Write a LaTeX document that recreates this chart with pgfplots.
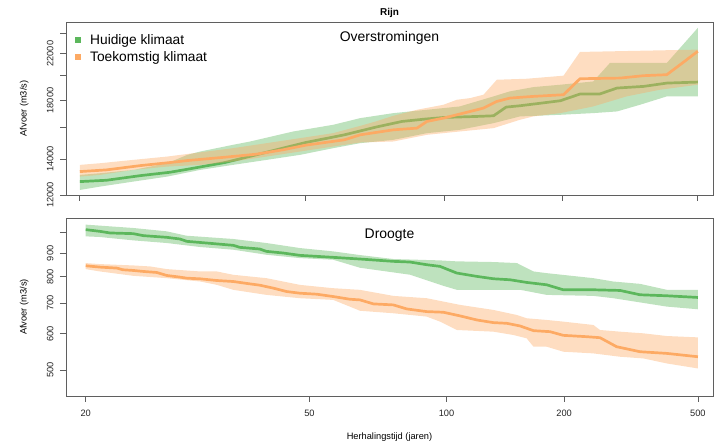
\documentclass[border=0pt]{standalone}
\usepackage{fontspec}
\setmainfont{Liberation Sans}
\usepackage{pgfplots}
\pgfplotsset{compat=1.18}
\definecolor{hgreen}{RGB}{92,183,92}
\definecolor{horange}{RGB}{253,170,100}
\definecolor{axgray}{RGB}{95,95,95}
\tikzset{mline/.style={line width=2.7bp, line join=round}}
\begin{document}
\begin{tikzpicture}
\useasboundingbox (0,0) rectangle (717bp,443bp);
% ---------------- top: Overstromingen
\begin{axis}[at={(66bp,248bp)}, anchor=south west,
  scale only axis, width=647bp, height=173bp,
  x coord trafo/.code={\pgfmathparse{ln(ln(#1))}},
  xmin=19.05, xmax=559.7,
  xtick={20,50,100,200,500}, xticklabels={},
  ymode=log, ymin=12000, ymax=25200,
  ytick={12000,14000,16000,18000,20000,22000,24000},
  yticklabels={12000,14000,,18000,,22000,},
  tick pos=left, tick align=outside, major tick length=6bp,
  axis line style={axgray, line width=0.8bp},
  every tick/.style={axgray, line width=0.8bp},
  /pgf/number format/assume math mode=true,
  ticklabel style={font=\fontsize{9.3}{11}\selectfont, text=black!85},
  yticklabel style={rotate=90, anchor=south}, yticklabel shift=3bp,
  ylabel={Afvoer (m3/s)},
  ylabel style={font=\fontsize{9.3}{11}\selectfont, at={(axis description cs:-0.0645,0.5)}, anchor=center},
  title={Rijn},
  title style={font=\bfseries\fontsize{10}{12}\selectfont, at={(axis description cs:0.5,1.016)}, anchor=center},
  legend style={at={(axis description cs:0,1)}, anchor=north west, xshift=6bp, yshift=-8.5bp,
    draw=none, fill=none, font=\fontsize{13.8}{16}\selectfont, row sep=1bp},
  legend cell align=left]
\addlegendimage{legend image code/.code={\fill[hgreen, draw=none] (0bp,-3bp) rectangle (6bp,3bp); \path[draw=none, fill=none] (0bp,-0.1bp) rectangle (13bp,0.1bp);}}
\addlegendentry{Huidige klimaat}
\addlegendimage{legend image code/.code={\fill[horange, draw=none] (0bp,-3bp) rectangle (6bp,3bp); \path[draw=none, fill=none] (0bp,-0.1bp) rectangle (13bp,0.1bp);}}
\addlegendentry{Toekomstig klimaat}
% green band (upper forward, lower backward)
\addplot[draw=none, fill=hgreen, fill opacity=0.4, forget plot] coordinates {
(20,13078) (21.5,13172) (24.3,13362) (27.7,13750) (30,14252) (31.6,14458) (36.2,14878)
(39,15094) (47.2,15756) (56.8,16213) (64.8,16685) (76.6,17048) (91.2,17293) (109,17544)
(132,18315) (145,18712) (167,19063) (197,19255) (243,19531) (271,21136) (400,21136) (500,24567)
(500,18315) (400,18315) (332,17669) (284,17171) (243,17048) (197,16925) (154,16806) (132,16330)
(109,15869) (91.2,15643) (76.6,15203) (64.8,14986) (56.8,14666) (48.7,14252) (41.9,13949)
(36.2,13652) (31.6,13362) (27.7,12984) (24.3,12708) (21.5,12438) (20,12261)};
\addplot[mline, hgreen, forget plot] coordinates {
(20,12708) (22,12781) (25,13040) (28,13228) (30,13399) (35,13790) (40,14252) (45,14666)
(50,15029) (60,15532) (70,16052) (80,16448) (90,16614) (100,16734) (120,16806) (132,16854)
(142,17494) (154,17594) (197,17976) (223,18499) (253,18499) (284,18983) (340,19118)
(400,19393) (500,19477)};
% orange band
\addplot[draw=none, fill=horange, fill opacity=0.4, forget plot] coordinates {
(20,13652) (21.5,13750) (24.3,13949) (27.7,14150) (36.2,14666) (41.9,14986) (48.7,15311)
(56.8,15643) (64.8,16139) (70,16448) (76.6,16854) (86.5,17293) (99.7,17669) (107.3,18053)
(115.6,18184) (124.6,18446) (134.5,19673) (160.4,19758) (201,20015) (223,22160) (500,22383)
(500,19255) (381,18846) (303,18315) (243,17544) (197,17048) (167,16806) (154,16565) (132,15983)
(109,15756) (91.2,15532) (76.6,15094) (64.8,15028) (56.8,14771) (48.7,14458) (41.9,14150)
(36.2,13849) (31.6,13652) (27.7,13554) (24.3,13362) (21.5,13078) (20,12984)};
\addplot[mline, horange, forget plot] coordinates {
(20,13266) (22,13362) (25,13613) (28,13790) (30,13909) (35,14109) (40,14292) (45,14562)
(50,14856) (60,15203) (64.8,15532) (76.6,15869) (86.5,15983) (91.2,16448) (99.7,16685)
(115.6,17171) (124.6,17418) (134.5,17925) (145.3,18184) (167,18315) (201,18446)
(223,19758) (290,19815) (340,20015) (400,20101) (450,21196) (500,22223)};
\node[font=\fontsize{14}{16}\selectfont] at (rel axis cs:0.5,0.9075) {Overstromingen};
\end{axis}
% ---------------- bottom: Droogte
\begin{axis}[at={(66bp,47bp)}, anchor=south west,
  scale only axis, width=647bp, height=178bp,
  x coord trafo/.code={\pgfmathparse{ln(ln(#1))}},
  xmin=18.65, xmax=559.7,
  xtick={20,50,100,200,500}, xticklabels={20,50,100,200,500},
  ymode=log, ymin=439, ymax=1075,
  ytick={500,600,700,800,900,1000},
  yticklabels={500,600,700,800,900,},
  tick pos=left, tick align=outside, major tick length=6bp,
  axis line style={axgray, line width=0.8bp},
  every tick/.style={axgray, line width=0.8bp},
  /pgf/number format/assume math mode=true,
  ticklabel style={font=\fontsize{9.3}{11}\selectfont, text=black!85},
  yticklabel style={rotate=90, anchor=south}, yticklabel shift=3bp,
  xticklabel shift=5bp,
  ylabel={Afvoer (m3/s)},
  ylabel style={font=\fontsize{9.3}{11}\selectfont, at={(axis description cs:-0.0645,0.5)}, anchor=center},
  xlabel={Herhalingstijd (jaren)},
  xlabel style={font=\fontsize{9.3}{11}\selectfont, at={(axis description cs:0.5,-0.2287)}, anchor=center}]
\addplot[draw=none, fill=hgreen, fill opacity=0.4] coordinates {
(20,1039.6) (21.05,1034.4) (23.8,1022.2) (27.1,1005.1) (29.3,983.3) (35.6,967.1) (41.1,947.7)
(47.8,924.1) (55.9,908.6) (63.7,892.0) (75.4,874.4) (96.5,868.4) (105.8,864.2) (130.3,861.3)
(149.6,856.9) (165.4,821.4) (179.3,814.5) (241.4,794.2) (275.5,780.9) (330.3,771.8)
(398.6,749.1) (500,749.1)
(500,679.1) (398.6,688.3) (275.5,718.0) (241.4,726.4) (179.3,730.1) (152.5,749.1) (105.8,749.1)
(98.3,764.1) (82.2,808.0) (63.7,836.8) (55.9,871.2) (47.8,878.5) (41.1,893.4) (35.6,916.3)
(31.0,928.8) (27.1,947.7) (23.8,960.5) (21.05,976.8) (20,980.1)};
\addplot[mline, hgreen] coordinates {
(20,1013.7) (21.05,1005) (21.84,996.9) (23.8,993.5) (24.75,983.5) (27.1,975.3) (28.56,967.1)
(29.34,955.8) (31.8,947.8) (35.6,936.7) (36.6,927.3) (39.9,919.6) (41.1,908.8) (44.3,901.2)
(47.8,890.7) (51.7,886.2) (55.9,881.8) (63.7,874.4) (75.4,864.2) (82.2,861.3) (89.8,849.8)
(96.5,842.7) (105.8,814.9) (118.4,801.3) (130.3,791.9) (143.6,787.9) (158.7,777.4)
(179.3,768.3) (199,749.1) (241.4,749.1) (288.3,746.6) (330.3,730.5) (398.6,726.8) (500,720.7)};
\addplot[draw=none, fill=horange, fill opacity=0.4] coordinates {
(20,856.7) (21.05,852.4) (23.8,846.7) (25.4,842.4) (27.1,831.2) (31.0,821.4) (33.2,821.4)
(35.6,807.7) (41.1,794.2) (47.8,767.9) (55.9,755.1) (63.7,748.8) (75.4,726.4) (89.8,718.0)
(107.9,694.2) (130.3,676.9) (149.6,659.9) (158.7,649.0) (179.3,643.6) (199,638.2)
(241.4,627.5) (252.2,611.9) (288.3,606.7) (338.3,601.7) (398.6,593.6) (500,589.6)
(500,504.2) (398.6,517.1) (338.3,530.3) (288.3,534.8) (241.4,543.9) (199,548.5) (179.3,562.5)
(165.4,562.5) (158.7,586.7) (146.5,596.6) (130.3,606.7) (105.8,611.9) (96.5,638.2) (89.8,654.5)
(75.4,665.6) (63.7,674) (55.9,711.9) (47.8,718.0) (41.1,730.1) (35.6,748.8) (33.2,767.9)
(31.0,780.9) (27.1,794.2) (23.8,803.6) (21.05,821.4) (20,831.2)};
\addplot[mline, horange] coordinates {
(20,845.3) (21.05,839.6) (22.4,835.4) (22.9,828.4) (23.8,825.6) (24.75,821.4) (26.05,817.3)
(27.1,805.0) (28.56,798.3) (29.34,794.2) (31.0,791.5) (33.2,784.9) (35.6,780.9) (38.2,771.8)
(39.9,766.7) (42.4,755.2) (45.0,742.5) (47.8,736.3) (51.7,732.6) (55.9,724.0) (60.6,714.3)
(63.7,711.9) (68.1,697.7) (75.4,694.2) (80.8,680.3) (89.8,671.2) (98.3,669.0) (107.9,656.7)
(118.4,643.6) (130.3,635.0) (140.9,632.8) (152.5,624.4) (165.4,609.8) (183.1,606.7)
(199,595.6) (231.1,591.6) (252.2,588.6) (281.6,562.5) (330.3,548.5) (398.6,543.9) (500,534.8)};
\node[font=\fontsize{14}{16}\selectfont] at (rel axis cs:0.5,0.9045) {Droogte};
\end{axis}
\end{tikzpicture}
\end{document}
